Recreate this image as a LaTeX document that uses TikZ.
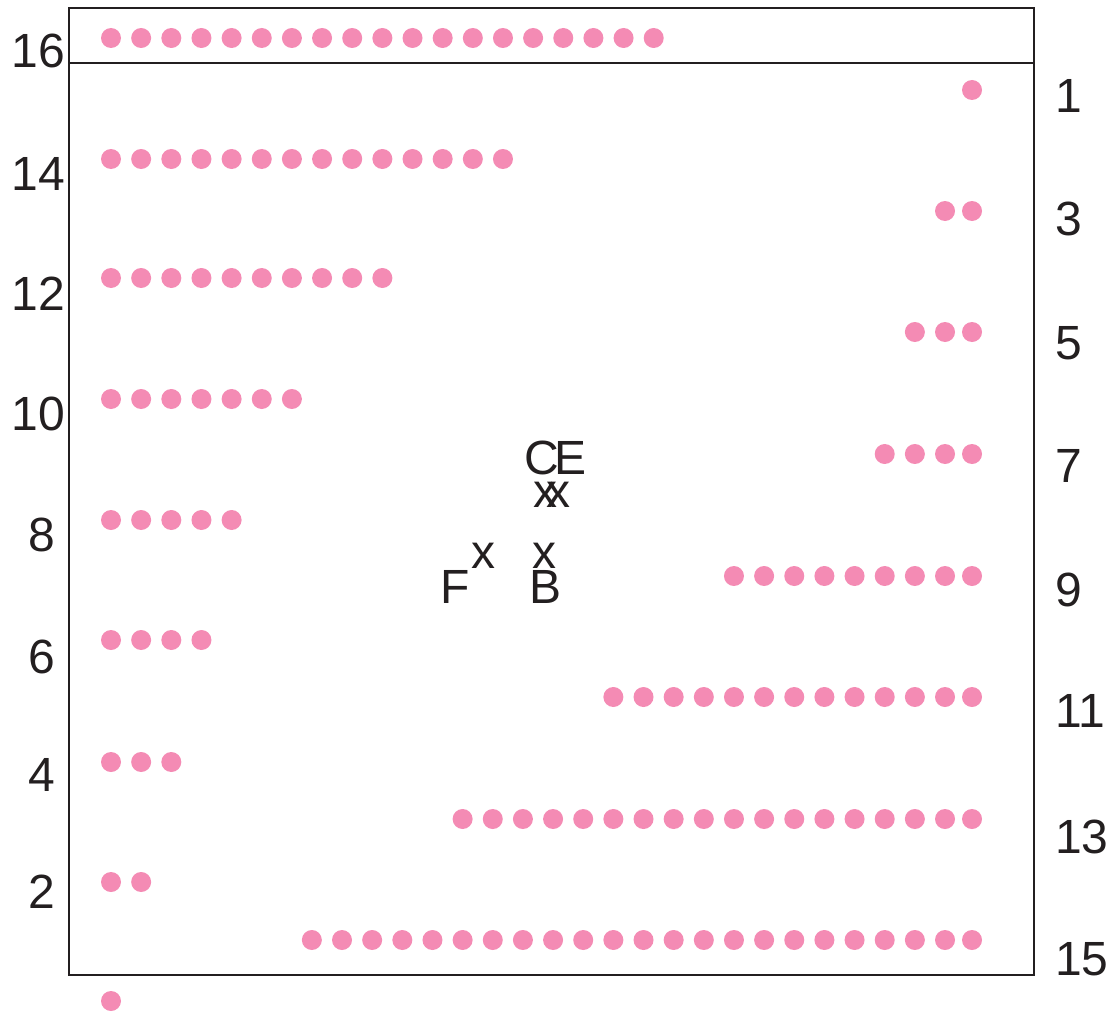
\documentclass[tikz,border=0pt]{standalone}
\usepackage{fontspec}
\setmainfont{Liberation Sans}
\usetikzlibrary{positioning}
\definecolor{ink}{HTML}{231F20}
\definecolor{rose}{HTML}{F48BB4}

\begin{document}
\begin{tikzpicture}[
  x=1pt, y=-1pt,
  font=\fontsize{48}{48}\selectfont,
  dot/.style={circle, fill=rose, inner sep=0pt, minimum size=20pt},
  frame/.style={draw=ink, line width=2.4pt},
  lefttag/.style={text=ink, inner sep=0pt, anchor=base east},
  righttag/.style={text=ink, inner sep=0pt, anchor=base west},
  mark label/.style={text=ink, inner sep=0pt, anchor=base}
]
\useasboundingbox (0,0) rectangle (1113,1014);
% frame with the top band
\coordinate (nw) at (69,8);
\coordinate (se) at (1034,975);
\coordinate (bandw) at (69,63);
\coordinate (bande) at (1034,63);
\draw[frame] (nw) rectangle (se);
\draw[frame] (bandw) -- (bande);
% rows growing from the left
\foreach \row/\yy/\num in {16/38/19, 14/159/14, 12/278/10, 10/399/7,
    8/520/5, 6/640/4, 4/762/3, 2/882/2, 0/1001/1}
  \foreach \i in {1,...,\num}
    \node[dot] (l\row-\i) at ({111+30.15*(\i-1)},\yy) {};
% rows growing from the right
\foreach \row/\yy/\num in {1/90/1, 3/211/2, 5/332/3, 7/454/4,
    9/576/9, 11/697/13, 13/819/18, 15/940/23}
  \foreach \i in {1,...,\num}
    \node[dot] (r\row-\i) at ({\i==1 ? 972 : 945-30.15*(\i-2)},\yy) {};
% row numbers
\foreach \row/\xx/\yy in {16/65/68, 14/65/190, 12/65/310, 10/65/430,
    8/55/551, 6/55/673, 4/55/791, 2/55/908}
  \node[lefttag] (tl\row) at (\xx,\yy) {\row};
\foreach \row/\yy in {1/113, 3/235, 5/359, 7/482, 9/606, 11/727, 13/853, 15/975}
  \node[righttag] (tr\row) at (1055,\yy) {\row};
% marks in the middle
\node[mark label] (C) at (542,474) {C};
\node[mark label] (E) at (570,474) {E};
\node[mark label] (xC) at (545,507) {x};
\node[mark label] (xE) at (558,507) {x};
\node[mark label] (xB) at (544,568) {x};
\node[mark label] (B) at (546,603) {B};
\node[mark label] (xF) at (483,568) {x};
\node[mark label] (F) at (455,603) {F};
\end{tikzpicture}
\end{document}
